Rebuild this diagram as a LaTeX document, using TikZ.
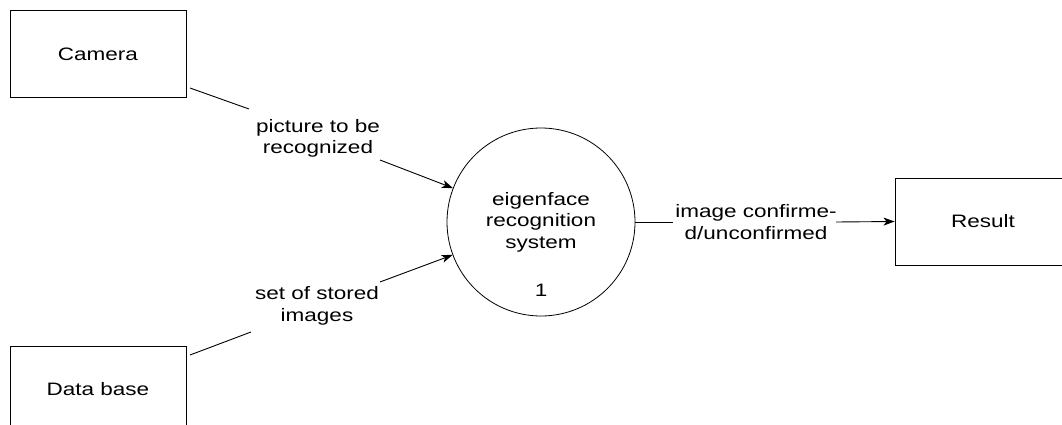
\documentclass[tikz,border=0pt]{standalone}
\usepackage{fontspec}
\setmainfont{Liberation Sans}[FakeStretch=1.25]
\usetikzlibrary{arrows.meta}
\begin{document}
\begin{tikzpicture}[x=1pt,y=-1pt,
  every node/.style={font=\fontsize{18}{21.5}\selectfont, align=center, inner sep=0pt, text=black},
  extbox/.style={draw, line width=1pt, minimum width=176pt, minimum height=87pt},
  proc/.style={draw, circle, line width=0.8pt, minimum size=188pt},
  flow/.style={line width=0.9pt},
  flowarrow/.style={flow, -{Stealth[length=11pt,width=8pt,inset=3pt]}}]
\useasboundingbox (0,0) rectangle (1062,425);

% external entities
\node[extbox] (camera) at (98,54.5) {Camera};
\node[extbox] (database) at (98,389.5) {Data base};
\node[extbox] (result) at (983,221.5) {Result};

% process
\node[proc] (process) at (541,222) {};
\node (ptext) at (541,222) {eigenface\\recognition\\system};
\node (pnum) at (541,290) {1};

% flow labels
\node (lab1) at (318,138.5) {picture to be\\recognized};
\node (lab2) at (317,306) {set of stored\\images};
\node (lab3) at (756,222) {image confirme-\\d/unconfirmed};

% connector end points
\coordinate (c1a) at (190,88);
\coordinate (c1b) at (249,109);
\coordinate (c1c) at (380,160);
\coordinate (c2a) at (190,355);
\coordinate (c2b) at (251,332);
\coordinate (c2c) at (380,282);
\coordinate (c3a) at (673,222);
\coordinate (c3b) at (836,222);

% flows
\draw[flow] (c1a) -- (c1b);
\draw[flowarrow] (c1c) -- (process);
\draw[flow] (c2a) -- (c2b);
\draw[flowarrow] (c2c) -- (process);
\draw[flow] (process.east) -- (c3a);
\draw[flowarrow] (c3b) -- (result.west);
\end{tikzpicture}
\end{document}
